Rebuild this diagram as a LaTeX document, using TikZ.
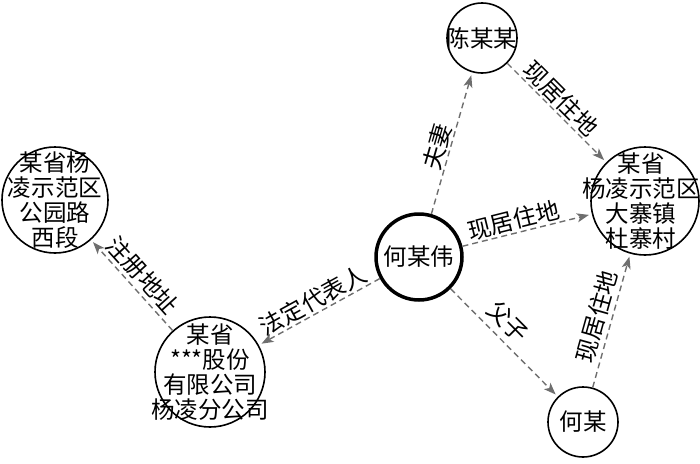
\documentclass[tikz,border=0pt]{standalone}
\usepackage{fontspec}
\setmainfont{Noto Sans CJK SC}
\usetikzlibrary{arrows.meta}
\definecolor{edgegray}{HTML}{6E6E6E}
\begin{document}
\begin{tikzpicture}[x=1pt,y=-1pt,
  ent/.style={circle,draw=black,line width=1.6pt,inner sep=0pt},
  txt/.style={align=center,inner sep=0pt,font=\fontsize{23.5}{25}\selectfont},
  rel/.style={draw=edgegray,line width=1.4pt,dash pattern=on 6pt off 4pt,
    -{Stealth[length=12pt,width=9pt,inset=3pt]},shorten >=3pt},
  lab/.style={sloped,above,inner sep=1.5pt,font=\fontsize{23.5}{25}\selectfont}
]
\useasboundingbox (0,0) rectangle (700,463);
% entities
\node[ent,minimum size=86pt,line width=3.5pt] (hmw) at (419,257) {};
\node[txt] (hmwt) at (hmw) {何某伟};
\node[ent,minimum size=70pt] (cmm) at (482,38) {};
\node[txt] (cmmt) at (cmm) {陈某某};
\node[ent,minimum size=108pt] (dzc) at (645,201) {};
\node[txt,xshift=-4pt] (dzct) at (dzc) {某省\\杨凌示范区\\大寨镇\\杜寨村};
\node[ent,minimum size=70pt] (hm) at (583,422) {};
\node[txt] (hmt) at (hm) {何某};
\node[ent,minimum size=106pt] (gyl) at (55,200) {};
\node[txt] (gylt) at (gyl) {某省杨\\凌示范区\\公园路\\西段};
\node[ent,minimum size=110pt] (gs) at (210,372) {};
\node[txt] (gst) at (gs) {某省\\***股份\\有限公司\\杨凌分公司};
% relations
\draw[rel] (hmw) -- node[lab,pos=0.45] {夫妻} (cmm);
\draw[rel] (cmm) -- node[lab,pos=0.45] {现居住地} (dzc);
\draw[rel] (hmw) -- node[lab,pos=0.42] {现居住地} (dzc);
\draw[rel] (hmw) -- node[lab,pos=0.42,inner sep=6pt] {父子} (hm);
\draw[rel] (hm) -- node[lab,pos=0.5,inner sep=4pt] {现居住地} (dzc);
\draw[rel] (hmw) -- node[lab,pos=0.5] {法定代表人} (gs);
\draw[rel] (gs) -- node[lab,pos=0.5,inner sep=3pt] {注册地址} (gyl);
\end{tikzpicture}
\end{document}
